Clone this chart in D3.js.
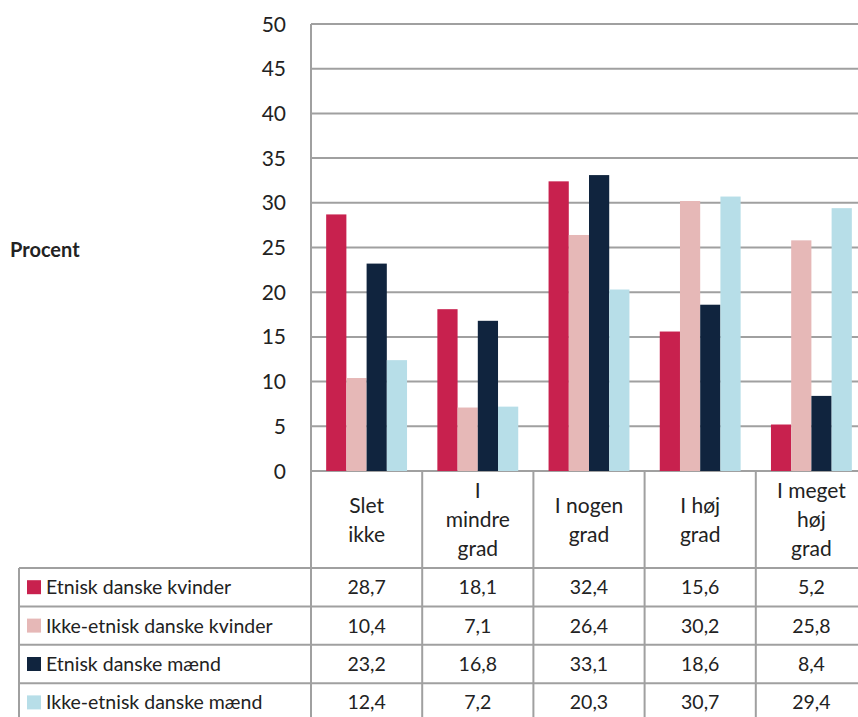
<!DOCTYPE html>
<html>
<head>
<meta charset="utf-8">
<script src="https://cdn.jsdelivr.net/npm/d3@7"></script>
<style>
  html, body { margin: 0; padding: 0; background: #fff; }
  svg { display: block; }
  text { font-family: Lato, "Open Sans", sans-serif; fill: #222; }
</style>
</head>
<body>
<svg id="chart" width="858" height="717"></svg>
<script>
// Categories (multi-line headers) and series
const categories = ["Slet ikke", "I mindre grad", "I nogen grad", "I høj grad", "I meget høj grad"];
const categoryLines = [["Slet", "ikke"], ["I", "mindre", "grad"], ["I nogen", "grad"], ["I høj", "grad"], ["I meget", "høj", "grad"]];
const seriesNames = ["Etnisk danske kvinder", "Ikke-etnisk danske kvinder", "Etnisk danske mænd", "Ikke-etnisk danske mænd"];
const seriesColors = ["#C8214E", "#E6B8B7", "#10243E", "#B7DEE8"];
const etniskKvinder = [28.7, 18.1, 32.4, 15.6, 5.2];
const ikkeEtniskKvinder = [10.4, 7.1, 26.4, 30.2, 25.8];
const etniskMaend = [23.2, 16.8, 33.1, 18.6, 8.4];
const ikkeEtniskMaend = [12.4, 7.2, 20.3, 30.7, 29.4];
const seriesValues = [etniskKvinder, ikkeEtniskKvinder, etniskMaend, ikkeEtniskMaend];
const yTicks = [0, 5, 10, 15, 20, 25, 30, 35, 40, 45, 50];

const svg = d3.select("#chart");
const gridColor = "#a0a0a0";

const plotLeft = 311, colW = 111.2, plotTop = 24, plotBottom = 471;
const plotRight = plotLeft + colW * categories.length;
const tableLeft = 19, headerBottom = 568, rowH = 38.4;

const x = d3.scaleBand().domain(categories).range([plotLeft, plotRight]).paddingInner(0).paddingOuter(0);
const xs = d3.scaleBand().domain(d3.range(4)).range([0, x.bandwidth()]).paddingOuter(0.75).paddingInner(0);
const y = d3.scaleLinear().domain([0, 50]).range([plotBottom, plotTop]);

// Horizontal gridlines
svg.append("g").selectAll("line").data(yTicks).join("line")
  .attr("x1", plotLeft).attr("x2", plotRight)
  .attr("y1", d => y(d)).attr("y2", d => y(d))
  .attr("stroke", gridColor).attr("stroke-width", 2);

// Value axis line
svg.append("line").attr("x1", plotLeft).attr("x2", plotLeft)
  .attr("y1", plotTop).attr("y2", plotBottom)
  .attr("stroke", gridColor).attr("stroke-width", 2);

// Y tick labels
svg.append("g").selectAll("text").data(yTicks).join("text")
  .attr("x", 286).attr("y", d => y(d)).attr("dy", "0.36em")
  .attr("text-anchor", "end").attr("font-size", 21).text(d => d);

// Axis title
svg.append("text").attr("x", 10).attr("y", 250).attr("dy", "0.36em")
  .attr("font-size", 20).attr("font-weight", "bold").text("Procent");

// Bars
const barData = [];
categories.forEach((c, ci) => seriesValues.forEach((vals, si) => barData.push({ c, si, v: vals[ci] })));
svg.append("g").selectAll("rect").data(barData).join("rect")
  .attr("x", d => x(d.c) + xs(d.si))
  .attr("width", xs.bandwidth())
  .attr("y", d => y(d.v))
  .attr("height", d => y(0) - y(d.v))
  .attr("fill", d => seriesColors[d.si]);

// Table grid: vertical lines (below the plot)
const tableBottom = headerBottom + rowH * 4 + 10;
svg.append("g").selectAll("line").data(d3.range(categories.length + 1)).join("line")
  .attr("x1", i => plotLeft + i * colW).attr("x2", i => plotLeft + i * colW)
  .attr("y1", plotBottom).attr("y2", tableBottom)
  .attr("stroke", gridColor).attr("stroke-width", 2);
svg.append("line").attr("x1", tableLeft).attr("x2", tableLeft)
  .attr("y1", headerBottom).attr("y2", tableBottom)
  .attr("stroke", gridColor).attr("stroke-width", 2);
// Table grid: horizontal lines
svg.append("g").selectAll("line").data(d3.range(4)).join("line")
  .attr("x1", tableLeft).attr("x2", plotRight)
  .attr("y1", i => headerBottom + i * rowH).attr("y2", i => headerBottom + i * rowH)
  .attr("stroke", gridColor).attr("stroke-width", 2);

// Category header labels
const lineH = 29;
const headerMid = (plotBottom + headerBottom) / 2;
categories.forEach((c, ci) => {
  const lines = categoryLines[ci];
  const t = svg.append("text").attr("text-anchor", "middle").attr("font-size", 21);
  lines.forEach((ln, li) => {
    t.append("tspan").attr("x", x(c) + x.bandwidth() / 2)
      .attr("y", headerMid + (li - (lines.length - 1) / 2) * lineH)
      .attr("dy", "0.36em").text(ln);
  });
});

// Legend rows with values
const fmt = v => v.toFixed(1).replace(".", ",");
seriesNames.forEach((name, si) => {
  const cy = headerBottom + si * rowH + rowH / 2;
  svg.append("rect").attr("x", 27).attr("y", cy - 7).attr("width", 14).attr("height", 14)
    .attr("fill", seriesColors[si]);
  svg.append("text").attr("x", 46).attr("y", cy).attr("dy", "0.36em")
    .attr("font-size", 19.5).text(name);
  categories.forEach((c, ci) => {
    svg.append("text").attr("x", x(c) + x.bandwidth() / 2).attr("y", cy).attr("dy", "0.36em")
      .attr("text-anchor", "middle").attr("font-size", 19.5).text(fmt(seriesValues[si][ci]));
  });
});
</script>
</body>
</html>
